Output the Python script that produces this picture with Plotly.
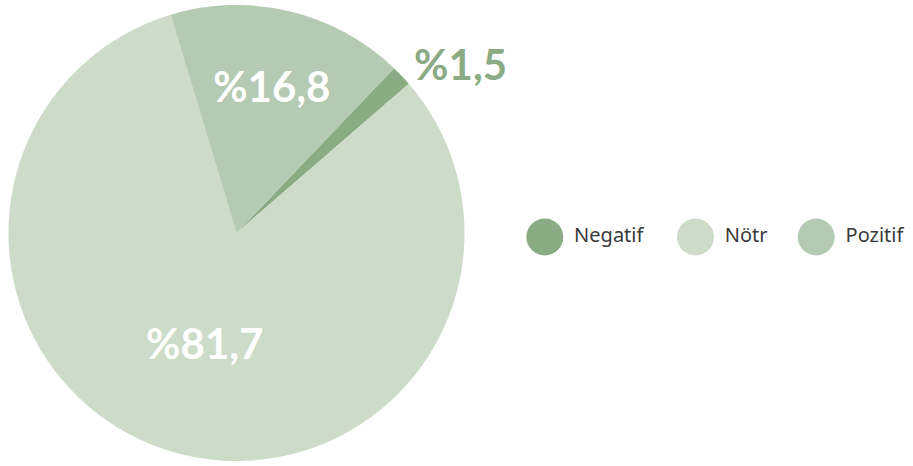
import plotly.graph_objects as go

# sentiment shares (%)
labels = ["Negatif", "Nötr", "Pozitif"]
values = [1.5, 81.7, 16.8]
colors = ["#8aab84", "#cddbc9", "#b5cab3"]

# Turkish style percent labels: %81,7
pct_text = ["%" + f"{v:.1f}".replace(".", ",") for v in values]

# legend circle positions in pixels (layout only)
legend_x = [544, 695, 816]

W, H = 913, 466

fig = go.Figure()

fig.add_trace(go.Pie(
    labels=labels,
    values=values,
    text=pct_text,
    textinfo="text",
    sort=False,
    direction="clockwise",
    rotation=43.7,
    marker=dict(colors=colors, line=dict(width=0)),
    textposition=["outside", "inside", "inside"],
    insidetextorientation="horizontal",
    textfont=dict(family="Lato", size=42, weight="bold", color=["#8aab84", "white", "white"]),
    outsidetextfont=dict(family="Lato", size=42, weight="bold", color="#8aab84"),
    domain=dict(x=[5 / W, 465 / W], y=[3 / H, 463 / H]),
    showlegend=False,
    hoverinfo="label+percent",
))

# custom legend with big round markers
fig.add_trace(go.Scatter(
    x=legend_x,
    y=[237] * len(labels),
    mode="markers+text",
    marker=dict(size=37, color=colors, line=dict(width=0)),
    text=[" " + l for l in labels],
    textposition="middle right",
    textfont=dict(family="Noto Sans", size=20, color="#3a3a3a"),
    xaxis="x",
    yaxis="y",
    showlegend=False,
    hoverinfo="skip",
    cliponaxis=False,
))

fig.update_layout(
    width=W,
    height=H,
    margin=dict(l=0, r=0, t=0, b=0),
    paper_bgcolor="white",
    plot_bgcolor="rgba(0,0,0,0)",
    xaxis=dict(range=[0, W], visible=False, domain=[0, 1], fixedrange=True),
    yaxis=dict(range=[H, 0], visible=False, domain=[0, 1], fixedrange=True),
)

# drop the default 8px body margin so the chart sits flush in the window
fig.write_html("out.html", config={"displayModeBar": False},
               post_script="document.body.style.margin='0';")
